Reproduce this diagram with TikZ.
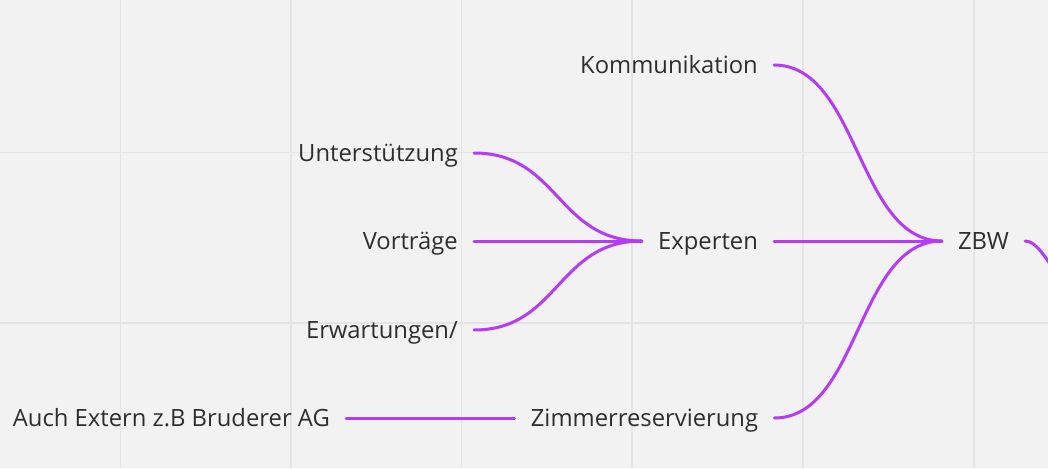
\documentclass[tikz,border=0pt]{standalone}
\usepackage{fontspec}
\setmainfont{Open Sans}
\definecolor{bgc}{HTML}{F2F2F2}
\definecolor{gridc}{HTML}{E4E4E4}
\definecolor{linkc}{HTML}{B43CF2}
\definecolor{txtc}{HTML}{2E2E2E}
\begin{document}
\begin{tikzpicture}[x=1pt,y=-1pt,
  lbl/.style={font=\fontsize{23.8}{28}\selectfont, text=txtc, inner xsep=16pt, inner ysep=0pt, text height=17pt, text depth=0pt},
  link/.style={draw=linkc, line width=3pt, line cap=round},
  curvy/.style={link}]
\useasboundingbox (0,0) rectangle (1048,468);
\clip (0,0) rectangle (1048,468);
\fill[bgc] (0,0) rectangle (1048,468);
\foreach \gx in {120.5,291,461.5,632,803,974} \draw[gridc, line width=1.6pt] (\gx,0) -- (\gx,468);
\foreach \gy in {152.5,323} \draw[gridc, line width=1.6pt] (0,\gy) -- (1048,\gy);

\node[lbl, anchor=east] (komm) at (774,65) {Kommunikation};
\node[lbl, anchor=east] (unter) at (474,153) {Unterstützung};
\node[lbl, anchor=east] (vortr) at (474,241) {Vorträge};
\node[lbl, anchor=east] (erw) at (474,330) {Erwartungen/};
\node[lbl] (exp) at (708,241) {Experten};
\node[lbl] (zbw) at (983.5,241) {ZBW};
\node[lbl] (zimmer) at (644.5,418) {Zimmerreservierung};
\node[lbl, anchor=east] (extern) at (346,418) {Auch Extern z.B Bruderer AG};
\coordinate (zout) at (1072,302);

\draw[curvy] (unter.east) .. controls +(85,0) and +(-85,0) .. (exp.west);
\draw[link] (vortr.east) -- (exp.west);
\draw[curvy] (erw.east) .. controls +(85,0) and +(-85,0) .. (exp.west);
\draw[curvy] (komm.east) .. controls +(85,0) and +(-85,0) .. (zbw.west);
\draw[link] (exp.east) -- (zbw.west);
\draw[curvy] (zimmer.east) .. controls +(85,0) and +(-85,0) .. (zbw.west);
\draw[link] (extern.east) -- (zimmer.west);
\draw[curvy] (zbw.east) .. controls +(11,0) and +(-24,-44) .. (zout);
\end{tikzpicture}
\end{document}
